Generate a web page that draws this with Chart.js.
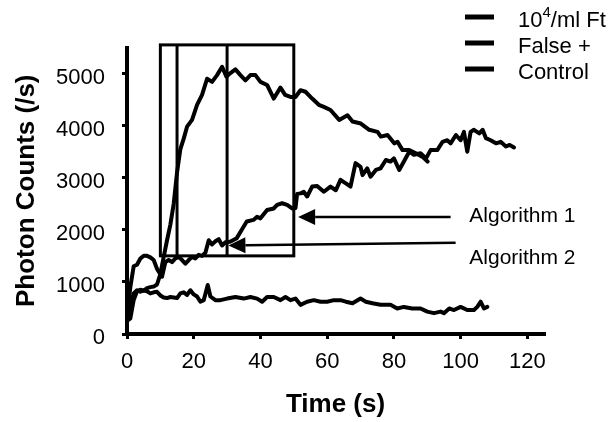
<!DOCTYPE html>
<html>
<head>
<meta charset="utf-8">
<script src="https://cdn.jsdelivr.net/npm/chart.js@4.4.1/dist/chart.umd.min.js"></script>
<style>
  html, body { margin: 0; padding: 0; background: #fff; }
  #wrap { width: 615px; height: 422px; }
</style>
</head>
<body>
<div id="wrap"><canvas id="photonChart" width="615" height="422"></canvas></div>
<script>
// Series: time (s) and photon counts (/s)
const seriesLabels = ['10⁴/ml Ft', 'False +', 'Control'];

const ftTime = [0,1,2,3,4,5,6,7,8,9,10,11,12,13,14,15,16,17,18,19.5,21,22.5,24,25.5,27,28.5,29.8,30.8,32.5,34,35.5,37,38.5,40,42,44,46,47.4,49,50.5,52,53.5,55.5,57.5,59,61,63.6,66.1,67.6,70.1,72.6,75.1,76.1,78.1,80.1,81.1,82.6,84.6,86.6,88.6,90.1];
const ftCounts = [250,300,650,820,850,830,880,900,910,950,1150,1480,1800,2100,2500,3100,3550,3750,3980,4110,4400,4590,4900,4840,4970,5130,4940,5000,5080,4970,4870,4970,4970,4840,4780,4520,4730,4590,4550,4550,4680,4650,4520,4400,4360,4300,4110,4200,4080,4040,3920,3880,3790,3820,3660,3690,3530,3530,3470,3400,3310];

const fpTime = [0,1,2,3,4,5,6,7,8,9,10,10.5,11.5,12.5,13.5,14.5,15.5,16.5,17.5,18.5,19.5,20.5,21.5,22.5,23.5,24.5,25.5,26.5,27.5,28.5,29.5,30.9,32.9,34.4,35.9,37.9,39,40,42,44,45,46.5,48,49.5,50.5,51,52,53,54,55.5,57,59,61,62.6,64,65.6,67,68.5,70,70.6,72,73,74.6,76,77.6,79,80,81.6,83,84.6,86,88,89.6,91,93,94.6,96,97,98.6,100,101,102,103,104,105.6,106.6,107.6,109,110.6,112,113.6,114.7,116];
const fpCounts = [300,900,1300,1330,1450,1500,1500,1470,1420,1250,1150,1100,1380,1420,1380,1450,1480,1420,1350,1420,1480,1450,1520,1500,1560,1800,1720,1780,1820,1700,1760,1770,1840,2000,2160,2190,2250,2220,2380,2410,2480,2510,2480,2410,2420,2690,2700,2730,2640,2830,2840,2730,2830,2760,2960,2890,2830,3280,3210,3050,3180,3020,3150,3180,3340,3310,3370,3150,3310,3500,3440,3470,3370,3530,3530,3690,3720,3660,3820,3720,3880,3500,3880,3920,3850,3920,3760,3720,3660,3690,3600,3630,3580];

const ctlTime = [0,1,2,3,4,5,6,7,8,9,10,11,12,13,14,15,16,17,18,19,20,21,22,23,24.2,25,26.5,28,30,32.5,35,37,39,40.5,42,44,46,47.5,49,50.5,52,54,56,58,60,62,64,65.6,67.6,70,71.6,73.6,76,79,81,83,85.5,88,90,92,94,95,96.6,98,100,102,104,105,106,107,108];
const ctlCounts = [300,550,780,840,810,840,820,780,800,810,740,700,690,710,700,690,780,800,750,840,760,720,620,650,940,720,650,650,680,710,680,710,680,620,710,710,650,710,650,680,560,620,650,620,620,650,650,620,590,680,620,590,560,560,490,520,490,490,430,400,430,400,490,460,520,460,460,520,620,490,520];

// Analysis window (s / counts) and the two algorithm split times
const windowTime = [10, 50];
const windowCounts = [1500, 5550];
const splitTimes = [15, 30];

// Algorithm arrows: tail, tip and label anchor in data units
const arrowLabels = ['Algorithm 1', 'Algorithm 2'];
const arrowTail = [[97, 2245], [98.5, 1752]];
const arrowTip = [[51.3, 2245], [30.4, 1700]];
const arrowText = [[102.6, 2265], [102.6, 1460]];

const xTicks = [0, 20, 40, 60, 80, 100, 120];
const yTicks = [0, 1000, 2000, 3000, 4000, 5000];

const FONT = "'Liberation Sans', Arial, Helvetica, sans-serif";
Chart.defaults.font.family = FONT;
Chart.defaults.color = '#000';

const toPoints = (t, v) => t.map((x, i) => ({ x: x, y: v[i] }));

// label text with a superscript ⁴ drawn smaller and raised
function drawLabel(ctx, text, x, y) {
    const parts = text.split('⁴');
    ctx.font = '22px ' + FONT;
    ctx.fillText(parts[0], x, y);
    if (parts.length < 2) return;
    x += ctx.measureText(parts[0]).width;
    ctx.font = '15px ' + FONT;
    ctx.fillText('4', x, y - 8);
    x += ctx.measureText('4').width;
    ctx.font = '22px ' + FONT;
    ctx.fillText(parts[1], x, y);
}

const overlay = {
    id: 'overlay',
    afterDatasetsDraw(chart) {
        const { ctx, scales: { x, y } } = chart;
        ctx.save();
        ctx.strokeStyle = '#000';
        ctx.fillStyle = '#000';

        // window box with the split lines
        const l = x.getPixelForValue(windowTime[0]);
        const r = x.getPixelForValue(windowTime[1]);
        const b = y.getPixelForValue(windowCounts[0]);
        const t = y.getPixelForValue(windowCounts[1]);
        ctx.lineWidth = 3;
        ctx.strokeRect(l, t, r - l, b - t);
        splitTimes.forEach(s => {
            const px = x.getPixelForValue(s);
            ctx.beginPath();
            ctx.moveTo(px, t);
            ctx.lineTo(px, b);
            ctx.stroke();
        });

        // arrows and their labels
        arrowLabels.forEach((label, i) => {
            const x0 = x.getPixelForValue(arrowTail[i][0]);
            const y0 = y.getPixelForValue(arrowTail[i][1]);
            const x1 = x.getPixelForValue(arrowTip[i][0]);
            const y1 = y.getPixelForValue(arrowTip[i][1]);
            const ang = Math.atan2(y1 - y0, x1 - x0);
            const head = 17, half = 8;
            const bx = x1 - head * Math.cos(ang), by = y1 - head * Math.sin(ang);
            ctx.lineWidth = 2.5;
            ctx.beginPath();
            ctx.moveTo(x0, y0);
            ctx.lineTo(bx, by);
            ctx.stroke();
            ctx.beginPath();
            ctx.moveTo(x1, y1);
            ctx.lineTo(bx + half * Math.sin(ang), by - half * Math.cos(ang));
            ctx.lineTo(bx - half * Math.sin(ang), by + half * Math.cos(ang));
            ctx.closePath();
            ctx.fill();

            ctx.font = '21px ' + FONT;
            ctx.textAlign = 'left';
            ctx.textBaseline = 'middle';
            ctx.fillText(label, x.getPixelForValue(arrowText[i][0]), y.getPixelForValue(arrowText[i][1]));
        });
        ctx.restore();
    },
    afterDraw(chart) {
        // legend, top right
        const ctx = chart.ctx;
        ctx.save();
        ctx.fillStyle = '#000';
        ctx.textAlign = 'left';
        ctx.textBaseline = 'middle';
        chart.data.datasets.forEach((ds, i) => {
            const rowY = 21 + i * 26;
            ctx.fillRect(465, rowY - 6.5, 29, 5);
            drawLabel(ctx, ds.label, 518, rowY);
        });
        ctx.restore();
    }
};

const lineStyle = {
    borderColor: '#000',
    borderWidth: 4,
    pointRadius: 0,
    tension: 0,
    borderJoinStyle: 'round',
    borderCapStyle: 'round',
    fill: false
};

const ctx = document.getElementById('photonChart').getContext('2d');

const photonChart = new Chart(ctx, {
    type: 'line',
    data: {
        datasets: [
            { label: seriesLabels[0], data: toPoints(ftTime, ftCounts), ...lineStyle },
            { label: seriesLabels[1], data: toPoints(fpTime, fpCounts), ...lineStyle },
            { label: seriesLabels[2], data: toPoints(ctlTime, ctlCounts), ...lineStyle }
        ]
    },
    options: {
        responsive: false,
        animation: false,
        devicePixelRatio: 1,
        layout: { padding: { top: 47.5, right: 71, bottom: 2, left: 0 } },
        plugins: {
            legend: { display: false },
            tooltip: { enabled: false }
        },
        scales: {
            x: {
                type: 'linear',
                min: 0,
                max: 125,
                afterFit: s => { s.height = 86; },
                afterBuildTicks: s => { s.ticks = xTicks.map(v => ({ value: v })); },
                border: { color: '#000', width: 4 },
                grid: { drawOnChartArea: false, color: '#000', lineWidth: 3, tickLength: 5 },
                ticks: { padding: 10, maxRotation: 0, font: { size: 22 }, callback: v => String(v) },
                title: {
                    display: true,
                    text: 'Time (s)',
                    font: { size: 26, weight: 'bold', lineHeight: 1 },
                    padding: { top: 0, bottom: 2 }
                }
            },
            y: {
                min: 0,
                max: 5500,
                afterFit: s => { s.width = 127; },
                afterBuildTicks: s => { s.ticks = yTicks.map(v => ({ value: v })); },
                border: { color: '#000', width: 4 },
                grid: { drawOnChartArea: false, color: '#000', lineWidth: 3, tickLength: 5 },
                ticks: { padding: 17, labelOffset: 4, font: { size: 22 }, callback: v => String(v) },
                title: {
                    display: true,
                    text: 'Photon Counts (/s)',
                    font: { size: 26, weight: 'bold', lineHeight: 1 },
                    padding: { top: 14, bottom: 0 }
                }
            }
        }
    },
    plugins: [overlay]
});
</script>
</body>
</html>
